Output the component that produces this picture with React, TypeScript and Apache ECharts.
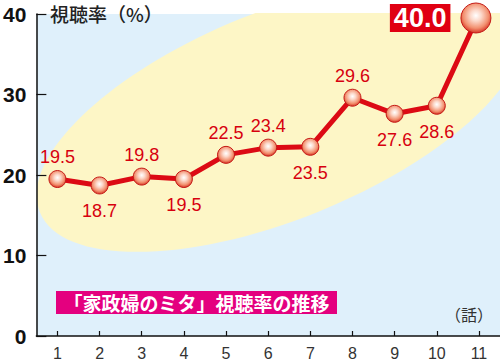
import React, { useEffect, useRef } from "react";
import * as echarts from "echarts";

const episodes = ["1", "2", "3", "4", "5", "6", "7", "8", "9", "10", "11"];
const ratings = [19.5, 18.7, 19.8, 19.5, 22.5, 23.4, 23.5, 29.6, 27.6, 28.6, 40.0];
const yTicks = [0, 10, 20, 30, 40];
const yTitle = "視聴率（%）";
const xUnit = "（話）";
const chartTitle = "「家政婦のミタ」視聴率の推移";

// style only: label side & nudge per point
const labelSide = ["top", "bottom", "top", "bottom", "top", "top", "bottom", "top", "bottom", "bottom", "left"];
const labelNudge = [2, -5, 2, 2, -12, 2, 4, 0, 0, 6, 0];

const RED = "#dc0a14";

const sphere = () => ({
  type: "radial",
  x: 0.5,
  y: 0.42,
  r: 0.6,
  colorStops: [
    { offset: 0, color: "#ffffff" },
    { offset: 0.3, color: "#fcd9cb" },
    { offset: 0.7, color: "#f2906f" },
    { offset: 1, color: "#d42a1c" },
  ],
});

export default function App() {
  const ref = useRef<HTMLDivElement>(null);
  useEffect(() => {
    if (!ref.current) return;
    const chart = echarts.init(ref.current, undefined, { renderer: "svg" });
    const gridLeft = 33;
    const gridTop = 14;
    const gridBottom = 28;
    const W = 500;
    const H = 364;
    const data = ratings.map((v, i) => {
      const last = i === ratings.length - 1;
      const side = labelSide[i];
      return {
        value: v,
        symbolSize: last ? 30 : 17,
        symbolOffset: last ? [-3, 4] : [0, 0],
        itemStyle: { color: sphere(), borderColor: "#c41a16", borderWidth: 1 },
        label: last
          ? {
              show: true,
              position: "left",
              distance: 10,
              offset: [0, 2],
              formatter: (p: any) => Number(p.value).toFixed(1),
              color: "#ffffff",
              backgroundColor: "#e00012",
              fontSize: 27,
              fontWeight: "bold",
              fontFamily: "Liberation Sans, Arial, sans-serif",
              padding: [2, 4, 0, 4],
              lineHeight: 26,
            }
          : {
              show: true,
              position: side,
              distance: side === "top" ? 4 : 8,
              offset: [labelNudge[i], 0],
              formatter: (p: any) => Number(p.value).toFixed(1),
              color: "#d7000f",
              fontSize: 18,
              fontFamily: "Liberation Sans, Arial, sans-serif",
            },
      };
    });
    chart.setOption({
      animation: false,
      grid: {
        left: gridLeft,
        right: 0,
        top: gridTop,
        bottom: gridBottom,
        show: true,
        backgroundColor: "#dff0fb",
        borderWidth: 0,
        z: 0,
      },
      graphic: [
        {
          type: "ellipse",
          z: 1,
          silent: true,
          x: 280,
          y: 115,
          rotation: (22 * Math.PI) / 180,
          shape: { cx: 0, cy: 0, rx: 259, ry: 104 },
          style: { fill: "#fdf6c6" },
        },
        {
          type: "rect",
          z: 2,
          silent: true,
          shape: { x: gridLeft, y: 0, width: W - gridLeft, height: gridTop - 1 },
          style: { fill: "#ffffff" },
        },
        {
          type: "rect",
          z: 2,
          silent: true,
          shape: { x: 0, y: 0, width: gridLeft, height: H },
          style: { fill: "#ffffff" },
        },
        {
          type: "text",
          z: 3,
          x: 50,
          y: 13,
          style: {
            text: yTitle,
            fill: "#222222",
            font: "500 19px 'Noto Sans CJK JP', sans-serif",
            verticalAlign: "middle",
          },
        },
        {
          type: "rect",
          z: 3,
          shape: { x: 56, y: 291, width: 281, height: 23 },
          style: { fill: "#e4007f" },
        },
        {
          type: "text",
          z: 4,
          x: 196.5,
          y: 302.5,
          style: {
            text: chartTitle,
            fill: "#ffffff",
            font: "bold 19px 'Noto Sans CJK JP', sans-serif",
            align: "center",
            verticalAlign: "middle",
          },
        },
        {
          type: "text",
          z: 3,
          x: 445,
          y: 314,
          style: {
            text: xUnit,
            fill: "#333333",
            font: "16px 'Noto Sans CJK JP', sans-serif",
            verticalAlign: "middle",
          },
        },
      ],
      xAxis: {
        type: "category",
        data: episodes,
        boundaryGap: true,
        z: 5,
        axisLine: { show: true, lineStyle: { color: "#111111", width: 1.5 } },
        axisTick: { show: true, inside: true, alignWithLabel: true, length: 5, lineStyle: { color: "#111111", width: 1.2 } },
        axisLabel: {
          color: "#333333",
          fontSize: 16,
          margin: 9,
          fontFamily: "Liberation Sans, Arial, sans-serif",
        },
        splitLine: { show: false },
      },
      yAxis: {
        type: "value",
        min: yTicks[0],
        max: yTicks[yTicks.length - 1],
        interval: yTicks[1] - yTicks[0],
        z: 5,
        axisLine: { show: true, lineStyle: { color: "#111111", width: 1.5 } },
        axisTick: { show: true, inside: true, length: 10, lineStyle: { color: "#111111", width: 1.2 } },
        axisLabel: {
          color: "#111111",
          fontSize: 21,
          fontWeight: "bold",
          margin: 10,
          fontFamily: "Liberation Sans, Arial, sans-serif",
        },
        splitLine: { show: false },
      },
      series: [
        {
          type: "line",
          z: 6,
          data,
          clip: false,
          symbol: "circle",
          lineStyle: { color: RED, width: 5 },
          itemStyle: { color: RED },
          labelLayout: { hideOverlap: false },
        },
      ],
    });
    return () => chart.dispose();
  }, []);
  return <div ref={ref} style={{ width: 500, height: 364, position: "absolute", left: 0, top: 0 }} />;
}
